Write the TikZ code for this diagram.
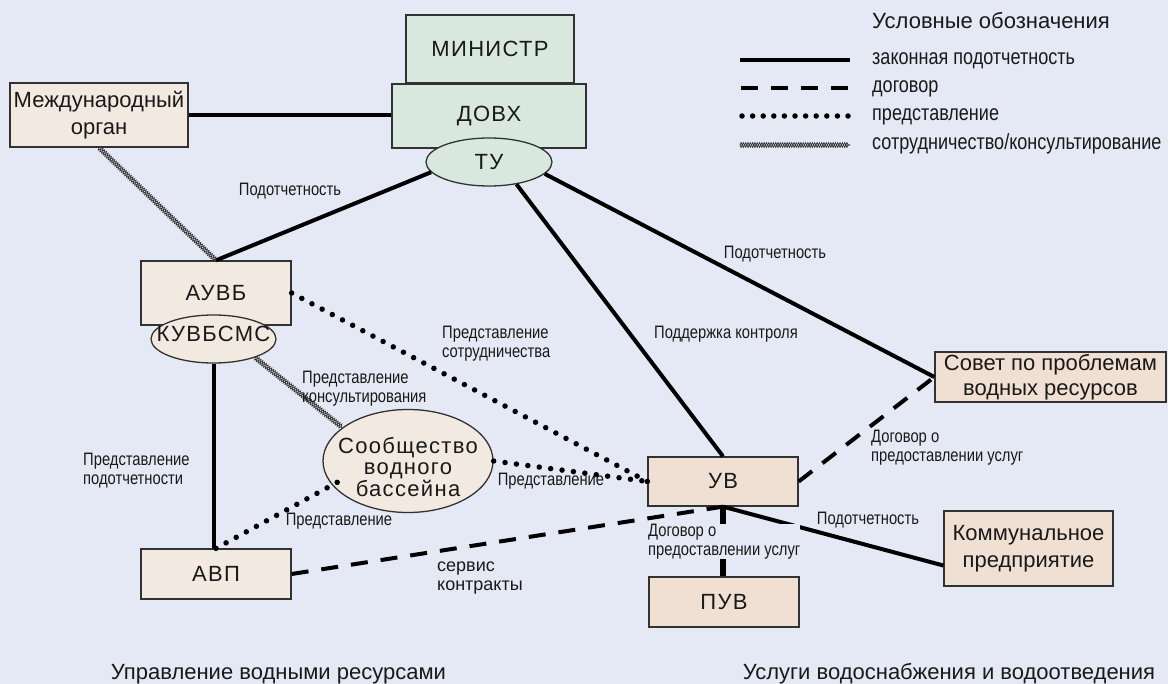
\documentclass[tikz,border=0pt]{standalone}
\usepackage{fontspec}
\setmainfont{Liberation Sans}
\newfontfamily\narrowfont[FakeStretch=0.82]{Liberation Sans}
\usetikzlibrary{shapes.geometric,decorations.pathmorphing,calc}
\definecolor{bg}{RGB}{229,233,245}
\definecolor{beige}{RGB}{242,234,224}
\definecolor{pinkb}{RGB}{240,224,211}
\definecolor{greenb}{RGB}{217,232,223}
\definecolor{edge}{RGB}{50,50,50}
\definecolor{ink}{RGB}{25,25,25}
\definecolor{coopc}{RGB}{55,55,55}
\newcommand\boxfont{\fontsize{22}{27}\selectfont}
\newcommand\spacedfont{\addfontfeature{LetterSpace=6}\fontsize{22}{26}\selectfont}
\newcommand\spacedfontb{\addfontfeature{LetterSpace=6}\fontsize{22}{20.5}\selectfont}
\newcommand\lblfont{\narrowfont\fontsize{18}{19}\selectfont}
\newcommand\legfont{\narrowfont\fontsize{22}{24}\selectfont}
\newcommand\midfont{\fontsize{18}{19}\selectfont}
\begin{document}
\begin{tikzpicture}[x=1pt,y=-1pt,
  box/.style={draw=edge, line width=1.3pt, rectangle, inner sep=1pt, align=center, text=ink, font=\boxfont},
  oval/.style={draw=edge, line width=1.3pt, ellipse, inner sep=0pt},
  legal/.style={draw=black, line width=4pt},
  contract/.style={draw=black, line width=4pt, dash pattern=on 17pt off 13pt},
  repr/.style={draw=black, line width=5.5pt, line cap=round, dash pattern=on 0pt off 11.5pt},
  coopline/.style={draw=coopc, line width=0.8pt, decorate, decoration={zigzag, amplitude=2.3pt, segment length=4.6pt}},
  coop/.style={postaction={coopline}, postaction={coopline, decoration={mirror}}},
  lbl/.style={inner sep=0pt, text=ink, font=\lblfont},
  leg/.style={inner sep=0pt, text=ink, font=\legfont, anchor=base west}
]
\fill[bg] (0,0) rectangle (1168,684);
\useasboundingbox (0,0) rectangle (1168,684);

% nodes
\node[box, fill=greenb, minimum width=168pt, minimum height=68pt, font=\spacedfont] (min) at (490,49) {МИНИСТР};
\node[box, fill=greenb, minimum width=194pt, minimum height=64pt, font=\spacedfont] (dovh) at (489,116) {ДОВХ};
\node[oval, fill=greenb, minimum width=126pt, minimum height=48pt, label={[font=\spacedfont, text=ink]center:ТУ}] (tu) at (489,162) {};
\node[box, fill=beige, minimum width=178pt, minimum height=64pt] (mo) at (99,115) {Международный\\орган};
\node[box, fill=beige, minimum width=150pt, minimum height=64pt, font=\spacedfont] (auvb) at (216,293) {АУВБ};
\node[oval, fill=beige, minimum width=125pt, minimum height=48pt, label={[font=\spacedfont, text=ink, yshift=5pt]center:КУВБСМС}] (kuv) at (213.5,339) {};
\node[oval, fill=beige, minimum width=170pt, minimum height=103pt, label={[font=\spacedfontb, text=ink, align=center, yshift=-6pt]center:Сообщество\\водного\\бассейна}] (sb) at (408,461) {};
\node[box, fill=pinkb, minimum width=150pt, minimum height=49pt, font=\spacedfont] (uv) at (723,481.5) {УВ};
\node[box, fill=pinkb, minimum width=150pt, minimum height=50pt, font=\spacedfont] (puv) at (724,602) {ПУВ};
\node[box, fill=beige, minimum width=150pt, minimum height=50pt, font=\spacedfont] (avp) at (216,574) {АВП};
\node[box, fill=pinkb, minimum width=231pt, minimum height=50pt, font=\fontsize{22}{25}\selectfont] (sov) at (1050.5,377) {Совет по проблемам\\водных ресурсов};
\node[box, fill=pinkb, minimum width=169pt, minimum height=75pt] (kom) at (1028.5,548.5) {Коммунальное\\предприятие};

% connectors
\draw[legal] (mo.east) -- (mo.east -| dovh.west);
\draw[legal] (tu.190) -- (auvb.north);
\draw[legal] (tu.-39) -- (uv.north);
\draw[legal] (tu.-12) -- (sov.west);
\draw[legal] (kuv.south) -- (kuv.south |- avp.north);
\draw[legal] (uv.south) -- ([yshift=-17pt]kom.west);
\draw[legal, line width=6pt] (uv.south) -- (uv.south |- puv.north);
\draw[contract] (avp.east) -- (uv.south);
\draw[contract] (uv.east) -- (sov.west);
\draw[repr] (auvb.east) -- (uv.west);
\draw[repr] (sb.east) -- (uv.west);
\coordinate (sbin) at (347,477);
\draw[repr] (avp.north) -- (sbin);
\path[coop] (mo.south) -- (auvb.north);
\path[coop] (kuv.-24) -- (sb.153);

% labels
\node[lbl] (l1) at (290,191) {Подотчетность};
\node[lbl] (l2) at (775,254) {Подотчетность};
\node[lbl, anchor=west, align=left] (l3) at (442,344) {Представление\\сотрудничества};
\node[lbl] (l4) at (726,334) {Поддержка контроля};
\node[lbl, anchor=west, align=left] (l5) at (302,389) {Представление\\консультирования};
\node[lbl, anchor=west, align=left] (l6) at (871,448) {Договор о\\предоставлении услуг};
\node[lbl, anchor=west, align=left] (l7) at (83,470.5) {Представление\\подотчетности};
\node[lbl] (l8) at (551,481) {Представление};
\node[lbl] (l9) at (339,521) {Представление};
\node[lbl] (l10) at (868,520) {Подотчетность};
\node[lbl, anchor=west, align=left, fill=bg] (l11) at (648,541.5) {Договор о\\предоставлении услуг};
\node[inner sep=0pt, anchor=west, align=left, text=ink, font=\midfont] (l12) at (437,578.5) {сервис\\контракты};
\node[inner sep=0pt, text=ink, font=\boxfont] (b1) at (278.5,674) {Управление водными ресурсами};
\node[inner sep=0pt, text=ink, font=\boxfont] (b2) at (949,674) {Услуги водоснабжения и водоотведения};

% legend
\node[inner sep=0pt, anchor=base west, text=ink, font=\boxfont] (lgt) at (872,29) {Условные обозначения};
\coordinate (ls1) at (740,60); \coordinate (le1) at (850,60);
\coordinate (ls2) at (741,88); \coordinate (le2) at (850,88);
\coordinate (ls3) at (742,116); \coordinate (le3) at (850,116);
\coordinate (ls4) at (740,145); \coordinate (le4) at (850,145);
\draw[legal] (ls1) -- (le1);
\draw[contract] (ls2) -- (le2);
\draw[repr, dash pattern=on 0pt off 10.6pt] (ls3) -- (le3);
\path[coop] (ls4) -- (le4);
\node[leg] (lg1) at (872,65) {законная подотчетность};
\node[leg] (lg2) at (872,93) {договор};
\node[leg] (lg3) at (872,121) {представление};
\node[leg] (lg4) at (872,150) {сотрудничество/консультирование};
\end{tikzpicture}
\end{document}
